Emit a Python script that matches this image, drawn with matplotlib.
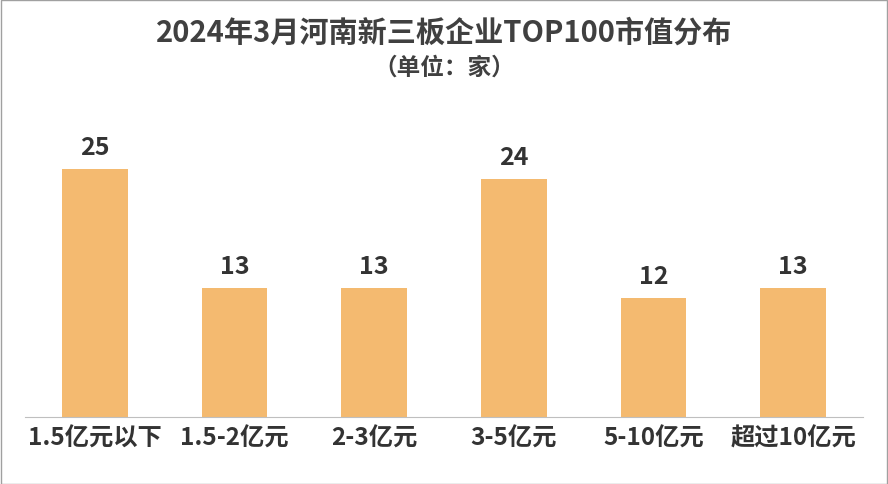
import matplotlib
matplotlib.use("Agg")
import matplotlib.pyplot as plt

plt.rcParams['font.family'] = ['Noto Sans CJK SC', 'DejaVu Sans']

categories = ["1.5亿元以下", "1.5-2亿元", "2-3亿元", "3-5亿元", "5-10亿元", "超过10亿元"]
values = [25, 13, 13, 24, 12, 13]

fig = plt.figure(figsize=(8.88, 4.85), dpi=100)
ax = fig.add_axes([25/888, (485-418)/485, (863-25)/888, 318/485])
ax.bar(range(len(categories)), values, width=0.47, color="#F4BA70")
for i, v in enumerate(values):
    ax.text(i, v + 1.0, str(v), ha="center", va="bottom", fontsize=18, fontweight="bold", color="#333333")
ax.set_xlim(-0.5, 5.5)
ax.set_ylim(0, 32)
ax.set_yticks([])
ax.set_xticks(range(len(categories)))
ax.set_xticklabels(categories, fontsize=17.5, fontweight="bold", color="#333333")
ax.tick_params(axis="x", length=0, pad=6)
for s in ["top", "right", "left"]:
    ax.spines[s].set_visible(False)
ax.spines["bottom"].set_color("#BFBFBF")

fig.text(0.5, 1 - 33/485, "2024年3月河南新三板企业TOP100市值分布", ha="center", va="center",
         fontsize=21, fontweight="bold", color="#404040")
fig.text(0.5, 1 - 68/485, "（单位：家）", ha="center", va="center",
         fontsize=17, fontweight="bold", color="#404040")
fig.patches.append(plt.Rectangle((0.001, 0.001), 0.998, 0.997, transform=fig.transFigure,
                                 fill=False, edgecolor="#A0A0A0", linewidth=1))
fig.savefig("out.png", dpi=100)
